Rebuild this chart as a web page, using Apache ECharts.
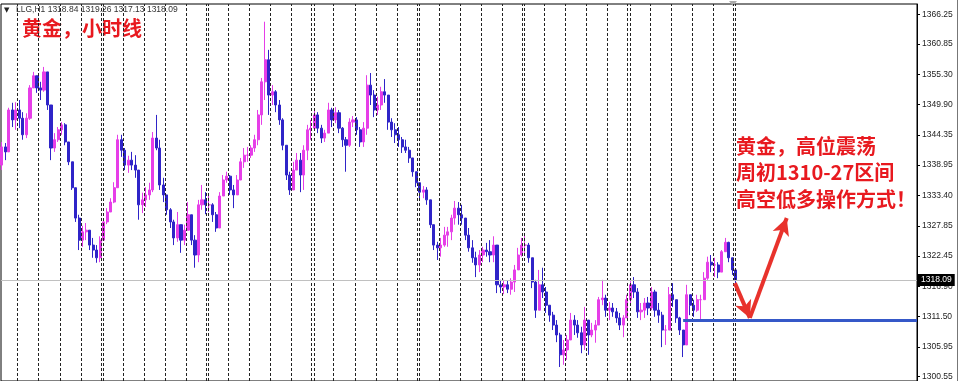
<!DOCTYPE html>
<html><head><meta charset="utf-8">
<script src="https://cdn.jsdelivr.net/npm/echarts@6/dist/echarts.min.js"></script>
<style>html,body{margin:0;padding:0;background:#fff}#c{width:960px;height:381px}</style>
</head><body><div id="c"></div>
<script>
// ---- data (XAU hourly, grouped 4h per candle) ----
const firstOpen = 1338.9;
const closes = [
1342.2,1341.3,1348.9,1347.1,1348.9,1347.4,1344.4,1347.4,1352.9,1355.1,
1352.9,1352.5,1355.8,1349.8,1342.0,1343.5,1345.3,1346.2,1343.1,1339.5,
1334.8,1329.3,1325.3,1326.8,1327.1,1324.4,1323.5,1322.1,1325.3,1328.6,
1330.4,1332.2,1334.8,1343.5,1341.6,1338.9,1339.8,1338.9,1338.0,1331.7,
1332.6,1333.5,1334.4,1343.8,1342.0,1335.3,1333.5,1330.8,1328.6,1325.7,
1328.1,1325.3,1327.1,1329.9,1325.3,1322.6,1331.7,1332.6,1331.7,1331.7,
1329.9,1327.5,1333.3,1336.2,1336.9,1334.4,1333.5,1336.2,1339.5,1340.7,
1340.7,1342.0,1343.5,1348.0,1354.0,1358.0,1351.6,1352.2,1349.8,1347.1,
1342.5,1337.1,1334.4,1338.0,1339.8,1337.1,1341.6,1345.3,1345.6,1348.0,
1345.6,1343.8,1344.7,1348.9,1347.1,1348.4,1345.6,1343.5,1342.5,1346.7,
1347.1,1345.3,1343.1,1345.6,1353.4,1351.6,1348.9,1349.8,1352.2,1351.6,
1346.7,1345.3,1344.4,1343.5,1342.2,1341.6,1340.2,1337.7,1335.7,1334.0,
1334.4,1332.6,1328.1,1324.4,1323.9,1324.4,1326.2,1326.8,1329.3,1331.1,
1329.9,1329.3,1326.2,1323.9,1322.1,1320.8,1322.6,1323.5,1323.2,1322.6,
1324.4,1317.2,1316.8,1317.2,1316.4,1317.7,1319.9,1322.6,1324.4,1324.4,
1322.1,1317.7,1312.6,1317.2,1315.9,1313.5,1311.7,1309.9,1308.1,1304.5,
1305.4,1307.2,1310.8,1309.9,1308.5,1306.3,1310.8,1308.1,1309.0,1309.9,
1314.5,1314.8,1312.6,1313.0,1312.3,1311.2,1309.9,1311.2,1314.5,1317.2,
1315.9,1312.3,1312.6,1313.9,1313.0,1315.9,1312.6,1311.7,1309.0,1309.0,
1315.4,1314.5,1311.2,1309.0,1306.3,1315.4,1313.5,1312.6,1314.5,1314.5,
1318.4,1321.3,1320.8,1320.8,1319.5,1323.2,1324.9,1322.1,1319.9,1318.09
];
const highs = [
1343.1,1342.9,1349.3,1350.2,1350.3,1350.7,1348.5,1348.3,1353.4,1355.8,
1354.7,1354.0,1356.7,1355.8,1349.8,1344.7,1345.8,1346.7,1346.5,1343.1,
1339.5,1334.8,1329.9,1327.9,1328.4,1327.1,1325.7,1324.4,1326.0,1329.3,
1331.1,1332.9,1335.8,1344.4,1344.4,1342.0,1340.6,1341.3,1340.7,1338.0,
1333.9,1334.9,1335.7,1344.9,1348.0,1343.5,1336.6,1333.5,1331.1,1329.0,
1330.4,1328.1,1328.1,1332.2,1329.9,1326.2,1332.6,1335.3,1334.0,1333.5,
1332.0,1330.4,1334.0,1337.1,1337.7,1337.1,1335.3,1337.1,1340.2,1342.0,
1342.2,1342.5,1344.4,1348.9,1354.7,1364.9,1359.8,1353.4,1352.5,1350.7,
1347.4,1342.5,1337.7,1339.5,1341.1,1341.1,1342.5,1346.2,1347.1,1348.9,
1348.5,1346.2,1345.3,1350.2,1349.3,1349.4,1348.9,1345.8,1344.0,1347.4,
1347.8,1347.6,1345.8,1346.7,1355.2,1355.6,1352.5,1351.3,1353.1,1354.5,
1350.7,1347.4,1346.5,1345.8,1344.0,1343.5,1342.2,1339.8,1337.7,1335.7,
1335.1,1334.9,1332.6,1328.1,1325.0,1325.7,1327.7,1327.7,1329.9,1332.4,
1332.2,1331.7,1329.3,1327.5,1325.3,1323.2,1323.5,1324.1,1324.8,1325.3,
1326.0,1324.4,1318.1,1318.1,1317.9,1318.4,1320.8,1323.9,1325.7,1326.6,
1324.8,1322.1,1318.1,1319.9,1320.3,1316.8,1313.5,1312.3,1310.8,1308.5,
1307.2,1308.1,1312.1,1311.7,1310.8,1309.6,1313.2,1310.8,1310.3,1310.8,
1315.0,1318.1,1315.4,1314.1,1313.9,1313.0,1312.1,1311.7,1315.4,1318.1,
1318.6,1316.6,1313.9,1314.8,1315.0,1316.8,1316.3,1313.9,1312.3,1309.9,
1316.8,1317.5,1314.5,1311.4,1309.0,1317.2,1314.8,1314.5,1315.4,1315.4,
1319.5,1322.3,1322.6,1322.1,1321.3,1323.5,1325.7,1325.0,1322.1,1319.9
];
const lows = [
1338.0,1339.8,1341.3,1345.8,1345.3,1345.6,1343.5,1343.8,1347.1,1353.2,
1352.0,1350.7,1352.2,1348.9,1339.8,1341.3,1343.1,1344.4,1342.5,1338.9,
1334.4,1328.6,1323.5,1324.1,1325.3,1323.5,1322.1,1321.2,1321.3,1325.3,
1328.2,1330.4,1332.0,1334.8,1340.4,1338.0,1337.5,1338.0,1336.6,1329.0,
1330.2,1331.3,1332.6,1334.0,1341.6,1334.4,1332.2,1329.9,1327.5,1324.4,
1325.0,1323.0,1324.4,1327.5,1324.4,1320.3,1321.3,1330.8,1330.0,1330.4,
1328.6,1326.8,1327.5,1333.3,1335.7,1333.5,1331.1,1333.5,1336.6,1338.4,
1339.5,1340.2,1341.3,1342.5,1346.2,1350.7,1348.0,1349.8,1348.5,1346.2,
1341.6,1336.2,1333.5,1334.4,1338.0,1334.0,1334.4,1339.8,1343.5,1345.6,
1344.7,1342.9,1343.1,1344.9,1345.8,1346.5,1344.7,1342.2,1337.7,1342.2,
1345.8,1344.4,1342.2,1342.2,1344.4,1349.8,1347.6,1348.0,1348.9,1350.2,
1345.3,1344.0,1342.9,1342.2,1341.1,1341.1,1339.3,1336.8,1334.9,1332.6,
1332.9,1331.7,1327.5,1323.5,1321.7,1322.3,1324.1,1324.1,1325.3,1328.1,
1328.1,1328.1,1325.3,1323.2,1321.2,1318.6,1319.5,1321.3,1322.3,1321.3,
1321.3,1315.7,1315.7,1315.5,1315.7,1315.4,1315.9,1320.3,1322.3,1322.6,
1321.2,1316.6,1311.2,1312.6,1314.8,1312.1,1310.5,1309.0,1306.8,1302.3,
1302.7,1303.6,1307.2,1308.1,1307.6,1304.8,1305.4,1304.5,1307.7,1306.7,
1310.5,1313.5,1311.4,1310.8,1311.4,1310.3,1309.0,1307.7,1311.7,1313.5,
1314.8,1311.2,1310.8,1311.2,1311.7,1312.6,1311.4,1310.3,1305.9,1306.3,
1309.0,1313.2,1310.3,1308.1,1304.1,1306.3,1311.7,1311.4,1312.3,1310.8,
1315.0,1318.1,1319.5,1318.6,1318.4,1319.5,1323.2,1321.3,1319.0,1317.4
];
const candleHours = 4;          // each candle covers 4 hours
const firstCandleHour = 6;      // centre of the first candle (hours from chart origin)
const separatorDays = [1,2,3,4,6,7,8,9,11,12,13,14,16,17,18,19,21,22,23,24,26,27,28,29,31,32,33,34];
const weekStartDays = [5,10,15,20,25,30,35];
const yTickValues = [1300.55,1305.95,1311.50,1316.90,1322.45,1327.85,1333.40,1338.95,1344.35,1349.90,1355.30,1360.85,1366.25];
const bidPrice = 1318.09;
const supportLevel = 1310.8;
const supportStartHour = 782;
const arrowPath = [[841,1317.5],[858,1311.2],[900,1329.3]];
const headerText = 'LLG,H1 1318.84 1319.26 1317.13 1318.09';
const titleText = '黄金，小时线';
const noteLines = ['黄金，高位震荡','周初1310-27区间','高空低多操作方式！'];

// ---- build ----
const candles = closes.map((c, k) => {
  const o = k === 0 ? firstOpen : closes[k - 1];
  const lo = Math.min(lows[k], o, c), hi = Math.max(highs[k], o, c);
  return [firstCandleHour + candleHours * k, o, c, lo, hi];
});

const sepStyle = {color: '#222', width: 1, type: [3, 2]};
const markData = [];
separatorDays.forEach(d => markData.push({xAxis: d * 24, lineStyle: sepStyle}));
weekStartDays.forEach(d => {
  markData.push({xAxis: d * 24 - 1.3, lineStyle: sepStyle});
  markData.push({xAxis: d * 24 + 1.3, lineStyle: sepStyle});
});
markData.push({
  yAxis: bidPrice,
  lineStyle: {color: '#c0c0c0', width: 1, type: 'solid'},
  label: {show: true, position: 'end', distance: 1, formatter: bidPrice.toFixed(2),
    backgroundColor: '#000', color: '#fff', padding: [2, 3, 1, 3],
    fontSize: 8.5, fontFamily: 'Liberation Sans'}
});
markData.push([
  {coord: [supportStartHour, supportLevel], symbol: 'none'},
  {coord: [1048.4, supportLevel], symbol: 'none', lineStyle: {color: '#3558c8', width: 3, type: 'solid'}}
]);
const red = '#e8322c';
for (let s = 0; s < arrowPath.length - 1; s++) {
  markData.push([
    {coord: arrowPath[s], symbol: 'none'},
    {coord: arrowPath[s + 1], symbol: 'arrow', symbolSize: [13, 17],
      lineStyle: {color: red, width: 4, type: 'solid'}, itemStyle: {color: red}}
  ]);
}

const chart = echarts.init(document.getElementById('c'), null, {renderer: 'canvas'});
const up = '#e63ee8', down = '#2f24c8';
chart.setOption({
  animation: false,
  backgroundColor: '#fff',
  grid: {left: 1, right: 43, top: 4, bottom: 0, show: true, borderColor: '#000', borderWidth: 1,
         backgroundColor: '#fff', outerBoundsMode: 'none', containLabel: false},
  xAxis: {type: 'value', min: 5, max: 1048.4, show: true,
    axisLine: {show: false}, axisTick: {show: false}, axisLabel: {show: false}, splitLine: {show: false}},
  yAxis: {type: 'value', position: 'right', min: 1299.76, max: 1368.11,
    splitLine: {show: false},
    axisLine: {show: true, lineStyle: {color: '#000', width: 1}},
    axisTick: {show: true, length: 3, customValues: yTickValues, lineStyle: {color: '#000'}},
    axisLabel: {customValues: yTickValues, formatter: v => v.toFixed(2), color: '#222',
      fontSize: 8.5, fontFamily: 'Liberation Sans', margin: 5}},
  series: [{
    type: 'candlestick',
    data: candles,
    barWidth: 2.6,
    itemStyle: {color: up, color0: down, borderColor: up, borderColor0: down, borderWidth: 1},
    markLine: {silent: true, symbol: ['none', 'none'], animation: false, label: {show: false},
      data: markData}
  }],
  graphic: [
    {type: 'text', x: 4, y: 10, style: {text: '▼', font: '7px "DejaVu Sans"', fill: '#222', verticalAlign: 'middle'}},
    {type: 'text', x: 16, y: 10, style: {text: headerText, font: '8.5px "Liberation Sans"', fill: '#333', verticalAlign: 'middle'}},
    {type: 'text', x: 22, y: 28, style: {text: titleText, font: 'bold 20px "Noto Sans CJK SC"', fill: '#e8191f', verticalAlign: 'middle'}},
    {type: 'text', x: 736, y: 146, style: {text: noteLines[0], font: 'bold 20px "Noto Sans CJK SC"', fill: '#e8191f', verticalAlign: 'middle'}},
    {type: 'text', x: 736, y: 172.5, style: {text: noteLines[1], font: 'bold 20px "Noto Sans CJK SC"', fill: '#e8191f', verticalAlign: 'middle'}},
    {type: 'text', x: 736, y: 199, style: {text: noteLines[2], font: 'bold 20px "Noto Sans CJK SC"', fill: '#e8191f', verticalAlign: 'middle'}},
    {type: 'polygon', shape: {points: [[729, 1], [737, 1], [733, 6]]}, style: {fill: '#aaa'}},
    {type: 'line', shape: {x1: 957.5, y1: 0, x2: 957.5, y2: 381}, style: {stroke: '#777', lineWidth: 1}}
  ]
});
</script></body></html>
